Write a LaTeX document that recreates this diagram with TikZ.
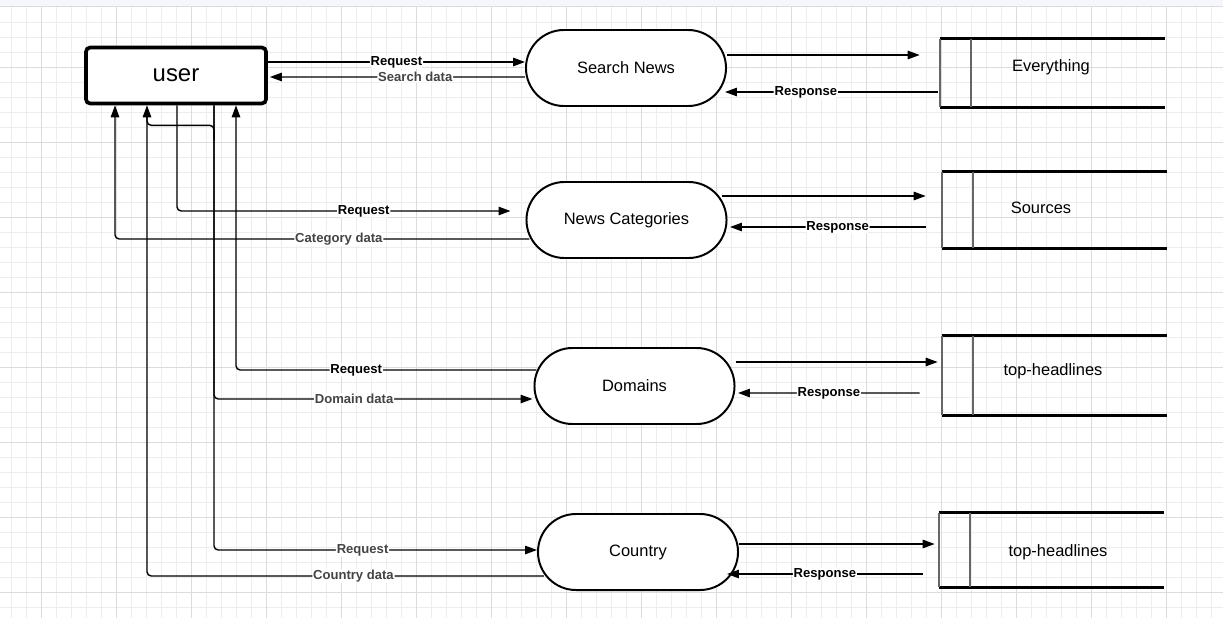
\documentclass[tikz,border=0pt]{standalone}
\usepackage{fontspec}
\setmainfont{Liberation Sans}
\usetikzlibrary{arrows.meta,calc}
\definecolor{datagray}{HTML}{444444}
\definecolor{gridminor}{HTML}{EDEDED}
\definecolor{gridmajor}{HTML}{DCDCDC}
\definecolor{topbar}{HTML}{F5F7FA}
\definecolor{sidegray}{HTML}{666666}

\begin{document}
\begin{tikzpicture}[x=0.025cm, y=-0.025cm, >={Triangle[length=8.5pt,width=6pt]},
    actor/.style={draw, line width=2.6pt, rounded corners=3pt, minimum width=4.5cm, minimum height=1.4cm, font=\fontsize{17}{20}\selectfont},
    process/.style={draw, line width=1.4pt, rounded corners=0.95cm, minimum width=5cm, minimum height=1.9cm, font=\fontsize{11.7}{14}\selectfont},
    store/.style={minimum width=5.625cm, inner sep=0pt},
    storetext/.style={font=\fontsize{11.7}{14}\selectfont},
    storeedge/.style={line width=2pt},
    storeside/.style={line width=1.3pt, sidegray},
    flow/.style={->, line width=1pt, rounded corners=3pt},
    lbl/.style={fill=white, inner sep=0.6pt, font=\bfseries\fontsize{9.3}{11}\selectfont}]
    \useasboundingbox (0,0) rectangle (1223,618);

    % background grid
    \foreach \gx in {11,26,...,1223} \draw[gridminor, line width=0.7pt] (\gx,6) -- (\gx,618);
    \foreach \gy in {22,37,...,618} \draw[gridminor, line width=0.7pt] (0,\gy) -- (1223,\gy);
    \foreach \gx in {41,116,...,1223} \draw[gridmajor, line width=0.7pt] (\gx,6) -- (\gx,618);
    \foreach \gy in {67,142,...,618} \draw[gridmajor, line width=0.7pt] (0,\gy) -- (1223,\gy);
    \fill[topbar] (0,0) rectangle (1223,6);
    \draw[gridmajor, line width=0.7pt] (0,6) -- (1223,6);

    \node[actor, fill=white]    (user) at (176, 75.5)  {user};

    \node[process, fill=white]  (sn)   at (626, 68)    {Search News};
    \node[process, fill=white]  (cat)  at (626.5, 220) {News Categories};
    \node[process, fill=white]  (dom)  at (634.5, 386) {Domains};
    \node[process, fill=white]  (cty)  at (638, 552)   {Country};

    \node[store, minimum height=1.7cm]   (ev)  at (1052.5, 73)    {};
    \node[store, minimum height=1.9cm]   (src) at (1054.5, 210)   {};
    \node[store, minimum height=1.975cm] (th1) at (1054.5, 375.5) {};
    \node[store, minimum height=1.85cm]  (th2) at (1051.5, 550)   {};

    \foreach \s in {ev,src,th1,th2} {
        \draw[storeedge] (\s.north west) -- (\s.north east);
        \draw[storeedge] (\s.south west) -- (\s.south east);
        \draw[storeside] (\s.north west) -- (\s.south west);
        \draw[storeside] ($(\s.north west)+(31,0)$) -- ($(\s.south west)+(31,0)$);
    }

    \node[storetext] (evtxt)  at (1051, 67)  {Everything};
    \node[storetext] (srctxt) at (1041, 208) {Sources};
    \node[storetext] (th1txt) at (1053, 371) {top-headlines};
    \node[storetext] (th2txt) at (1058, 552) {top-headlines};

    % search news
    \draw[flow] ($(user.east)+(0,-13.5)$) -- ($(sn.west)+(0,-6)$) node[lbl, pos=.5] {Request};
    \draw[flow] ($(sn.west)+(0,9)$) -- ($(user.east)+(2,1.5)$) node[lbl, pos=.43, text=datagray] {Search data};
    \draw[flow] ($(sn.east)+(0,-13)$) -- ($(ev.west)+(-20,-18)$);
    \draw[flow] ($(ev.west)+(-2,19)$) -- ($(sn.east)+(-2,24)$) node[lbl, pos=.62] {Response};

    % news categories
    \draw[flow] ($(user.south)+(1,0)$) |- ($(cat.west)+(-15,-9)$) node[lbl, pos=.78] {Request};
    \draw[flow] ($(cat.west)+(4,19)$) -| ($(user.south)+(-61,0)$) node[lbl, pos=.23, text=datagray] {Category data};
    \draw[flow] ($(cat.east)+(-6,-24)$) -- ($(src.west)+(-16,-14)$);
    \draw[flow] ($(src.west)+(-16,17)$) -- ($(cat.east)+(2.5,7)$) node[lbl, pos=.45] {Response};

    % domains
    \draw[flow] ($(dom.west)+(3,-16)$) -| ($(user.south)+(60,0)$) node[lbl, pos=.30] {Request};
    \draw[flow] ($(user.south)+(38,0)$) |- ($(dom.west)+(-1,13)$) node[lbl, pos=.72, text=datagray] {Domain data};
    \draw[flow] ($(dom.east)+(0,-24)$) -- ($(th1.west)+(-4,-13.5)$);
    \draw[flow] ($(th1.west)+(-22,17.5)$) -- ($(dom.east)+(2.5,7)$) node[lbl, pos=.5] {Response};

    % country
    \draw[flow] ($(user.south)+(38,0)$) |- ($(cty.west)+(0,-2)$) node[lbl, pos=.73, text=datagray] {Request};
    \draw[flow] ($(cty.west)+(7,24)$) -| ($(user.south)+(-29,0)$) node[lbl, pos=.24, text=datagray] {Country data};
    \draw[flow] ($(cty.east)+(0,-8)$) -- ($(th2.west)+(-4,-6)$);
    \draw[flow] ($(th2.west)+(-16,24)$) -- ($(cty.east)+(-12,22)$) node[lbl, pos=.5] {Response};

    \draw[line width=1pt, rounded corners=3pt] ($(user.south)+(38,35)$) |- ($(user.south)+(0,20)$) -| ($(user.south)+(-29,10)$);
\end{tikzpicture}
\end{document}
